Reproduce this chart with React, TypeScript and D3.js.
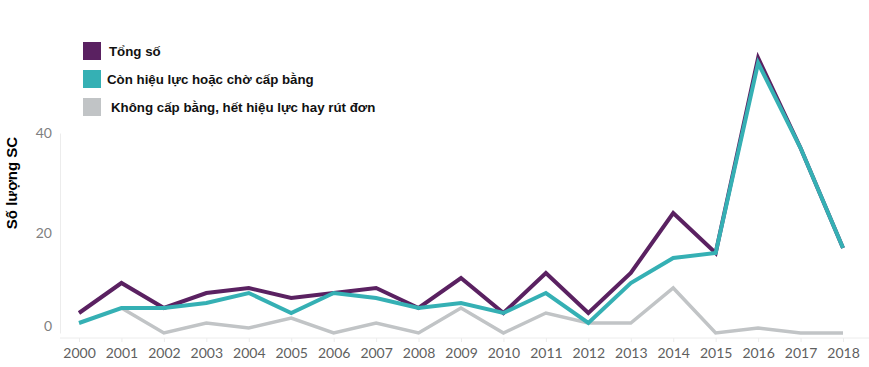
import { useEffect, useRef } from "react";
import { axisBottom, axisLeft, line, scaleLinear, scalePoint, select } from "d3";

const years = [
  "2000", "2001", "2002", "2003", "2004", "2005", "2006", "2007", "2008", "2009",
  "2010", "2011", "2012", "2013", "2014", "2015", "2016", "2017", "2018",
];
const tongSo = [4, 10, 5, 8, 9, 7, 8, 9, 5, 11, 4, 12, 4, 12, 24, 16, 55, 37, 17];
const conHieuLuc = [2, 5, 5, 6, 8, 4, 8, 7, 5, 6, 4, 8, 2, 10, 15, 16, 54, 37, 17];
const khongCap = [null, 5, 0, 2, 1, 3, 0, 2, 0, 5, 0, 4, 2, 2, 9, 0, 1, 0, 0];
const yTicks = [0, 20, 40];

const series = [
  { name: "Không cấp bằng, hết hiệu lực hay rút đơn", values: khongCap, color: "#c1c4c6", width: 3.5 },
  { name: "Tổng số", values: tongSo, color: "#5a2161", width: 4 },
  { name: "Còn hiệu lực hoặc chờ cấp bằng", values: conHieuLuc, color: "#35b0b4", width: 4 },
];
const legendItems = [series[1], series[2], series[0]];

export default function App() {
  const svgRef = useRef<SVGSVGElement | null>(null);

  useEffect(() => {
    const svg = select(svgRef.current);
    svg.selectAll("*").remove();

    const x = scalePoint<string>().domain(years).range([79, 843]);
    const y = scaleLinear().domain([0, 40]).range([333, 133]);

    // y axis
    const yAxis = svg.append("g").attr("transform", "translate(60,0)");
    yAxis.call(axisLeft(y).tickValues(yTicks).tickSize(0).tickPadding(8));
    yAxis.select(".domain").attr("stroke", "#ececec");
    yAxis
      .selectAll(".tick text")
      .attr("fill", "#7f7f7f")
      .style("font-family", "Lato, sans-serif")
      .style("font-size", "14px")
      .attr("dy", (d: any) => (d === 0 ? "-0.2em" : "0.32em"));

    // x axis
    const xAxis = svg.append("g").attr("transform", "translate(0,338)");
    xAxis.call(axisBottom(x).tickSize(4).tickPadding(6));
    xAxis.select(".domain").attr("stroke", "#ececec").attr("d", "M60,0H869");
    xAxis.selectAll(".tick line").attr("stroke", "#ececec");
    xAxis
      .selectAll(".tick text")
      .attr("fill", "#5f5f5f")
      .style("font-family", "Lato, sans-serif")
      .style("font-size", "14px");

    // axis title
    svg
      .append("text")
      .attr("transform", "translate(17,183) rotate(-90)")
      .attr("text-anchor", "middle")
      .style("font-family", "Arial, 'Liberation Sans', sans-serif")
      .style("font-weight", "bold")
      .style("font-size", "15px")
      .attr("fill", "#000")
      .text("Số lượng SC");

    const gen = line<number | null>()
      .defined((d) => d !== null)
      .x((_, i) => x(years[i]) as number)
      .y((d) => y(d as number));

    svg
      .append("g")
      .selectAll("path")
      .data(series)
      .enter()
      .append("path")
      .attr("d", (s) => gen(s.values))
      .attr("fill", "none")
      .attr("stroke", (s) => s.color)
      .attr("stroke-width", (s) => s.width)
      .attr("stroke-linejoin", "miter");

    // legend
    const legend = svg.append("g").attr("transform", "translate(83,42)");
    const rows = legend
      .selectAll("g")
      .data(legendItems)
      .enter()
      .append("g")
      .attr("transform", (_, i) => `translate(0,${i * 28})`);
    rows
      .append("rect")
      .attr("width", 18)
      .attr("height", 18)
      .attr("fill", (s) => s.color);
    rows
      .append("text")
      .attr("x", (_, i) => [26, 24, 28][i])
      .attr("y", 9)
      .attr("dy", "0.35em")
      .style("font-family", "Arial, 'Liberation Sans', sans-serif")
      .style("font-weight", "bold")
      .style("font-size", "13.3px")
      .attr("fill", "#111")
      .text((s) => s.name);
  }, []);

  return (
    <svg
      ref={svgRef}
      width={869}
      height={367}
      style={{ position: "absolute", left: 0, top: 0, background: "#fff" }}
    />
  );
}
